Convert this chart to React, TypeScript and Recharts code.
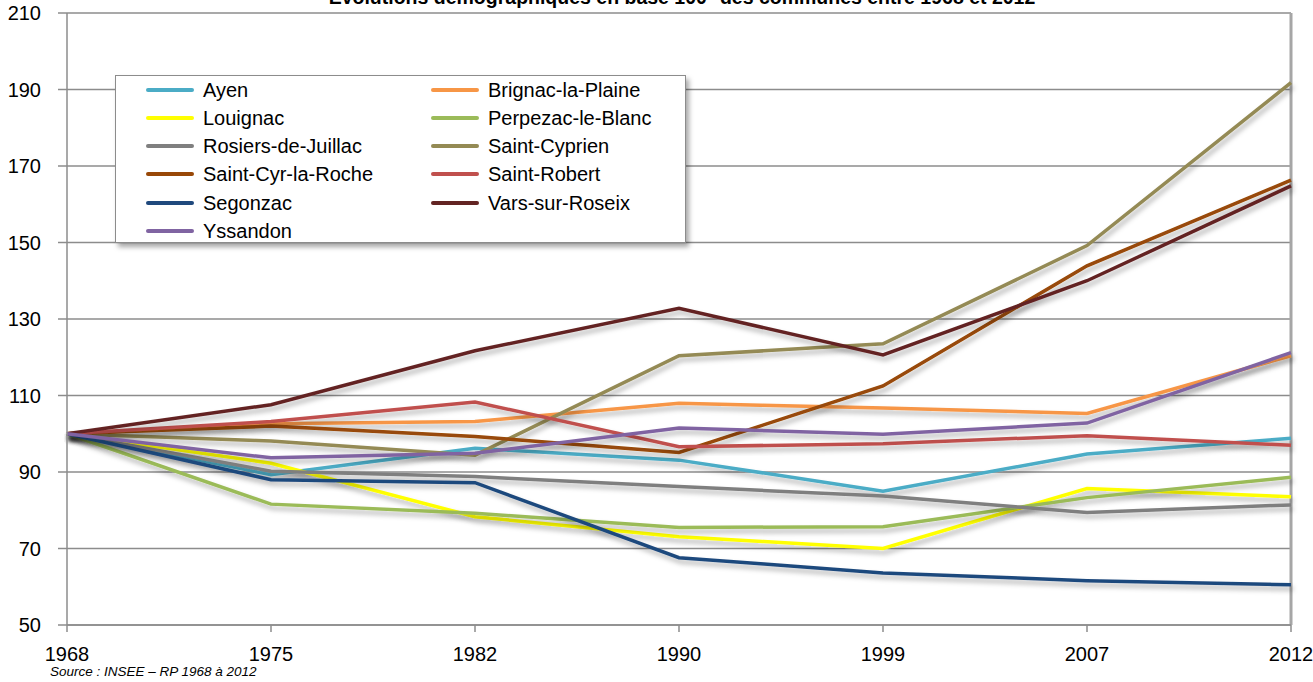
import { LineChart, Line, XAxis, YAxis, CartesianGrid, ReferenceLine } from 'recharts';

const years = [1968, 1975, 1982, 1990, 1999, 2007, 2012];
const yTicks = [50, 70, 90, 110, 130, 150, 170, 190, 210];

const ayen = [100, 89.3, 96.2, 93.1, 85.0, 94.7, 98.8];
const brignac = [100, 102.6, 103.2, 108.0, 106.7, 105.3, 120.4];
const louignac = [100, 92.3, 78.3, 73.1, 70.0, 85.7, 83.5];
const perpezac = [100, 81.6, 79.2, 75.5, 75.7, 83.3, 88.6];
const rosiers = [100, 90.2, 88.8, 86.2, 83.7, 79.4, 81.4];
const saintCyprien = [100, 98.1, 94.4, 120.4, 123.5, 149.2, 191.8];
const saintCyr = [100, 102.0, 99.3, 95.1, 112.5, 143.9, 166.3];
const saintRobert = [100, 103.2, 108.3, 96.6, 97.4, 99.5, 97.0];
const segonzac = [100, 88.0, 87.2, 67.6, 63.6, 61.6, 60.5];
const vars = [100, 107.6, 121.7, 132.8, 120.6, 140.0, 164.8];
const yssandon = [100, 93.7, 94.9, 101.5, 99.9, 102.8, 121.2];

const series = [
  { name: 'Ayen', values: ayen, color: '#4BACC6' },
  { name: 'Brignac-la-Plaine', values: brignac, color: '#F79646' },
  { name: 'Louignac', values: louignac, color: '#FFFF00' },
  { name: 'Perpezac-le-Blanc', values: perpezac, color: '#9BBB59' },
  { name: 'Rosiers-de-Juillac', values: rosiers, color: '#7F7F7F' },
  { name: 'Saint-Cyprien', values: saintCyprien, color: '#948A54' },
  { name: 'Saint-Cyr-la-Roche', values: saintCyr, color: '#984807' },
  { name: 'Saint-Robert', values: saintRobert, color: '#C0504D' },
  { name: 'Segonzac', values: segonzac, color: '#1F497D' },
  { name: 'Vars-sur-Roseix', values: vars, color: '#632423' },
  { name: 'Yssandon', values: yssandon, color: '#8064A2' },
];

const data = years.map((year, i) => {
  const row: Record<string, number> = { year };
  series.forEach((s) => (row[s.name] = s.values[i]));
  return row;
});

const font = '"Liberation Sans", Arial, sans-serif';
const grey = '#8c8c8c';

export default function App() {
  return (
    <div style={{ position: 'absolute', left: 0, top: 0, width: 1313, height: 682, background: '#fff', overflow: 'hidden', fontFamily: font }}>
      <svg width={0} height={0} style={{ position: 'absolute' }}>
        <defs>
          <filter id="shadow" x="-5%" y="-20%" width="110%" height="140%">
            <feDropShadow dx={2} dy={4} stdDeviation={2.5} floodColor="#000" floodOpacity={0.3} />
          </filter>
        </defs>
      </svg>
      <div
        style={{
          position: 'absolute',
          top: -12,
          left: 0,
          width: 1364,
          textAlign: 'center',
          fontSize: 19.5,
          lineHeight: '19px',
          fontWeight: 'bold',
          color: '#000',
        }}
      >
        Évolutions démographiques en base 100* des communes entre 1968 et 2012
      </div>
      <LineChart width={1313} height={682} data={data} margin={{ top: 13, right: 22, left: 0, bottom: 17 }}>
        <CartesianGrid vertical={false} stroke={grey} strokeWidth={1.5} />
        <XAxis
          dataKey="year"
          height={40}
          tick={{ fontSize: 20, fill: '#000', fontFamily: font }}
          tickSize={7}
          tickMargin={15}
          axisLine={{ stroke: grey, strokeWidth: 1.5 }}
          tickLine={{ stroke: grey, strokeWidth: 1.5 }}
          interval={0}
        />
        <YAxis
          domain={[50, 210]}
          ticks={yTicks}
          width={67}
          tick={{ fontSize: 20, fill: '#000', fontFamily: font }}
          tickSize={9}
          tickMargin={17}
          axisLine={{ stroke: grey, strokeWidth: 1.5 }}
          tickLine={{ stroke: grey, strokeWidth: 1.5 }}
        />
        <ReferenceLine x={2012} stroke="#a6a6a6" strokeWidth={3} />
        {series.map((s) => (
          <Line
            key={s.name}
            type="linear"
            dataKey={s.name}
            stroke={s.color}
            strokeWidth={3.5}
            dot={false}
            activeDot={false}
            filter="url(#shadow)"
            isAnimationActive={false}
          />
        ))}
      </LineChart>
      <div
        style={{
          position: 'absolute',
          left: 115,
          top: 75,
          width: 571,
          height: 168,
          boxSizing: 'border-box',
          background: '#fff',
          border: `1.5px solid ${grey}`,
          boxShadow: '3px 4px 5px rgba(0,0,0,0.35)',
        }}
      >
        {series.map((s, i) => {
          const col = i % 2;
          const row = Math.floor(i / 2);
          const x = col === 0 ? 30 : 315;
          const cy = 13.5 + row * 28.3;
          return (
            <div key={s.name}>
              <div style={{ position: 'absolute', left: x, top: cy - 2, width: 48, height: 4, background: s.color, borderRadius: 2 }} />
              <div style={{ position: 'absolute', left: x + 57, top: cy - 12, fontSize: 20, lineHeight: '24px', color: '#000', whiteSpace: 'nowrap' }}>
                {s.name}
              </div>
            </div>
          );
        })}
      </div>
      <div style={{ position: 'absolute', left: 50, top: 664, fontSize: 13.5, fontStyle: 'italic', color: '#000', whiteSpace: 'nowrap' }}>
        Source : INSEE – RP 1968 à 2012
      </div>
    </div>
  );
}
